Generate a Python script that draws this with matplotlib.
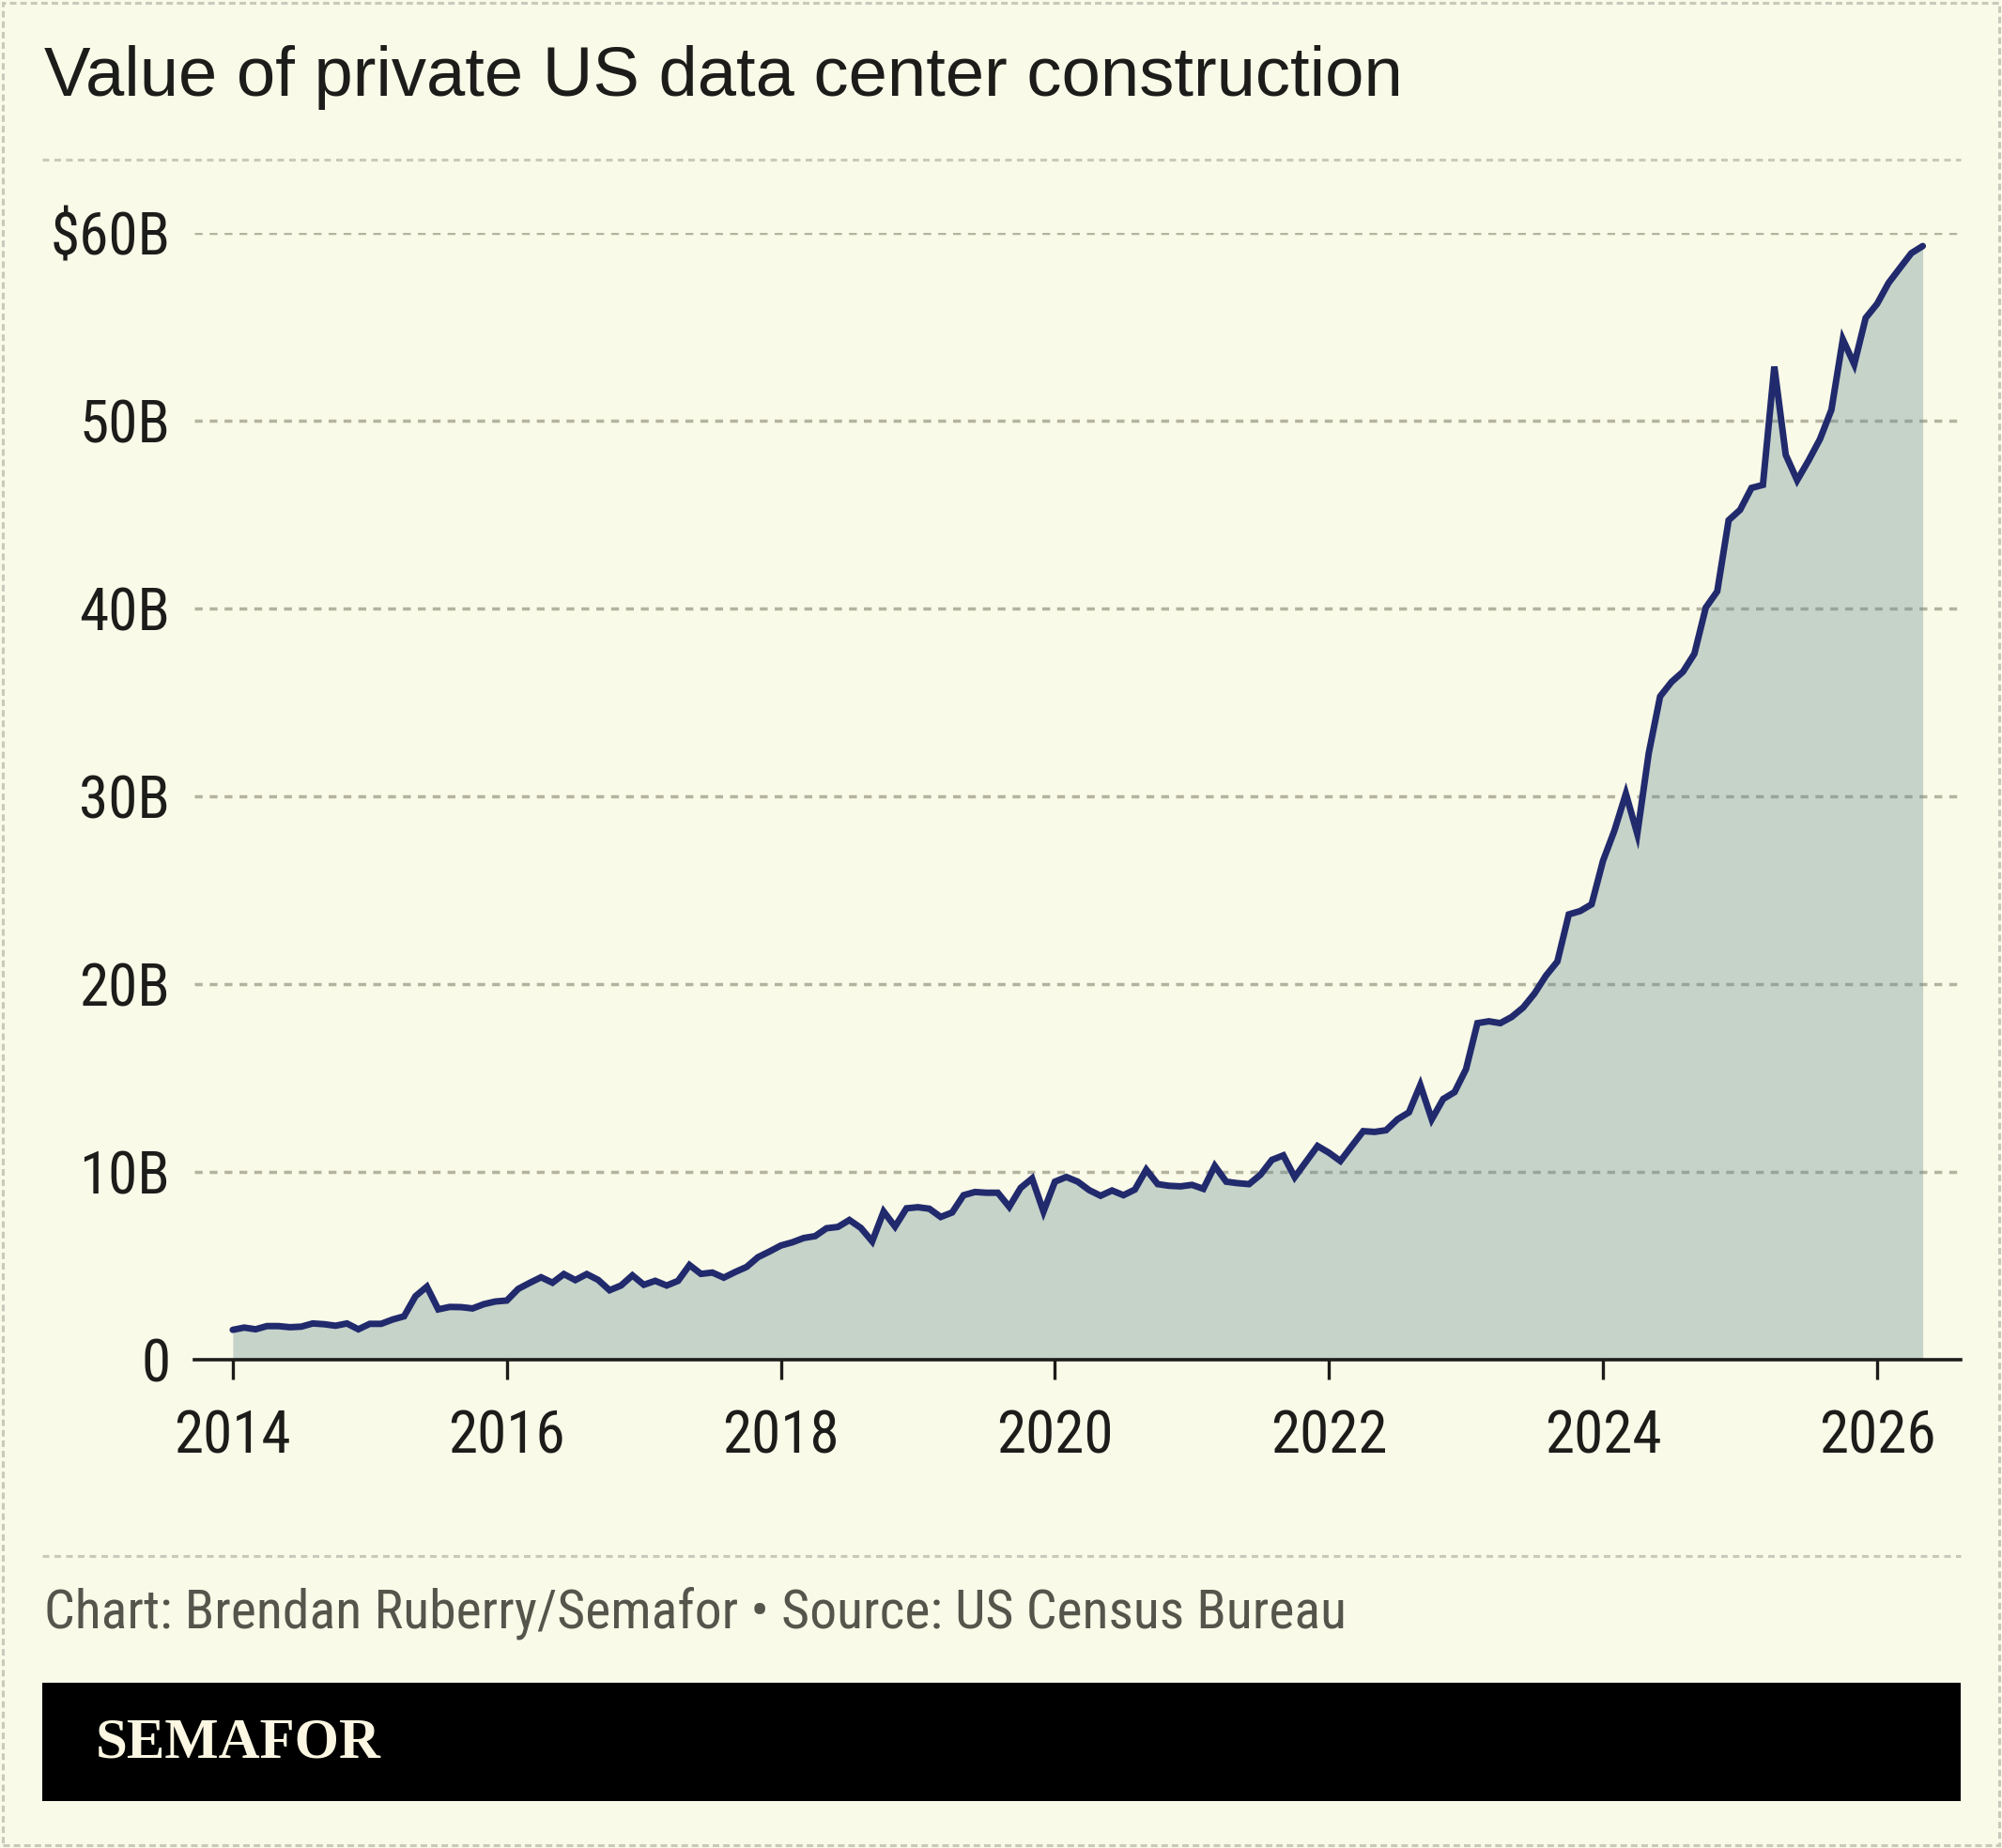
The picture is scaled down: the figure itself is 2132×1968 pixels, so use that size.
import numpy as np
import matplotlib
matplotlib.use("Agg")
import matplotlib.pyplot as plt
from matplotlib import font_manager
from matplotlib.patches import Rectangle
from matplotlib.lines import Line2D

# ---------------- data (monthly, Jan 2014 onward, $ billions) ----------------
start_year = 2014
values = [
    1.59, 1.71, 1.62, 1.79, 1.79, 1.73, 1.76, 1.93, 1.89, 1.81, 1.93, 1.62,   # 2014
    1.91, 1.91, 2.14, 2.31, 3.38, 3.89, 2.68, 2.81, 2.80, 2.73, 2.96, 3.10,   # 2015
    3.15, 3.77, 4.09, 4.39, 4.10, 4.56, 4.24, 4.56, 4.25, 3.70, 3.95, 4.49,   # 2016
    3.99, 4.20, 3.95, 4.20, 5.04, 4.57, 4.64, 4.37, 4.67, 4.94, 5.46, 5.76,   # 2017
    6.08, 6.25, 6.48, 6.58, 7.00, 7.07, 7.44, 7.02, 6.30, 7.89, 7.09, 8.06,   # 2018
    8.12, 8.04, 7.60, 7.84, 8.76, 8.93, 8.89, 8.89, 8.14, 9.15, 9.65, 7.89,   # 2019
    9.48, 9.73, 9.48, 9.03, 8.73, 9.01, 8.76, 9.06, 10.12, 9.35, 9.26, 9.23,  # 2020
    9.31, 9.10, 10.32, 9.48, 9.40, 9.35, 9.85, 10.64, 10.88, 9.72, 10.55, 11.38,  # 2021
    11.02, 10.58, 11.38, 12.17, 12.13, 12.22, 12.80, 13.17, 14.63, 12.80, 13.88, 14.25,  # 2022
    15.47, 17.92, 18.02, 17.92, 18.25, 18.75, 19.50, 20.45, 21.20, 23.71, 23.89, 24.25,  # 2023
    26.57, 28.18, 30.14, 28.00, 32.29, 35.32, 36.09, 36.63, 37.59, 40.05, 40.91, 44.70,  # 2024
    45.25, 46.42, 46.58, 52.88, 48.18, 46.83, 47.88, 49.02, 50.58, 54.33, 53.00, 55.47,  # 2025
    56.22, 57.33, 58.13, 58.92, 59.30,                                         # 2026
]
x_ticks = [2014, 2016, 2018, 2020, 2022, 2024, 2026]
x_tick_labels = ["2014", "2016", "2018", "2020", "2022", "2024", "2026"]
y_ticks = [0, 10, 20, 30, 40, 50, 60]
y_tick_labels = ["0", "10B", "20B", "30B", "40B", "50B", "$60B"]

title = "Value of private US data center construction"
credit = "Chart: Brendan Ruberry/Semafor \u2022 Source: US Census Bureau"
brand = "SEMAFOR"

# ---------------- style ----------------
W, H = 2132, 1968
BG = "#fafae8"
LINE = "#212a6c"
FILL = (0.39, 0.55, 0.57)
GRID = "#b3b3a0"
DASH = "#c9c9bc"
TXT = "#1c1c1a"
CREDIT = "#55554c"

available = {f.name for f in font_manager.fontManager.ttflist}
narrow_pick = "Liberation Sans"
for cand in ["Liberation Sans Narrow", "Roboto Condensed", "Open Sans Condensed",
             "IBM Plex Sans Condensed", "Arial Narrow"]:
    if cand in available:
        narrow_pick = cand
        break
NARROW = [narrow_pick, "DejaVu Sans"]

plt.rcParams["lines.scale_dashes"] = False

fig = plt.figure(figsize=(W / 100, H / 100), dpi=100, facecolor=BG)
renderer = fig.canvas.get_renderer()


def fx(px):
    return px / W


def fy(py):
    return 1 - py / H


def fit_size(text, family, target_px, base=40.0, **kw):
    t = fig.text(0, 0, text, family=family, fontsize=base, **kw)
    w = t.get_window_extent(renderer).width
    t.remove()
    return base * target_px / w


tick_fs = fit_size("2014", NARROW, 125)
credit_fs = fit_size(credit, NARROW, 1387)
title_fs = fit_size(title, ["Liberation Sans", "DejaVu Sans"], 1448)
brand_fs = fit_size(brand, ["Liberation Serif", "DejaVu Serif"], 304, fontweight="bold")

# axes placement (pixel coords from the top-left)
ax_left, ax_right, ax_top, ax_bottom = 207, 2088, 248, 1448
ax = fig.add_axes([fx(ax_left), fy(ax_bottom), fx(ax_right - ax_left), (ax_bottom - ax_top) / H])
ax.set_facecolor(BG)

x = start_year + np.arange(len(values)) / 12.0
y = np.array(values)

ax.fill_between(x, y, 0, color=FILL, alpha=0.35, lw=0, zorder=2)
ax.plot(x, y, color=LINE, lw=5.0, solid_joinstyle="miter", solid_capstyle="round", zorder=3)

ax.set_xlim(2013.72, 2026.61)
ax.set_ylim(0, 60)

for v in y_ticks[1:]:
    ax.axhline(v, color=GRID, lw=2.5, dashes=(6, 5.4), zorder=1)

ax.set_xticks(x_ticks)
ax.set_xticklabels(x_tick_labels, family=NARROW, fontsize=tick_fs, color=TXT)
ax.set_yticks(y_ticks)
ax.set_yticklabels(y_tick_labels, family=NARROW, fontsize=tick_fs, color=TXT)

ax.tick_params(axis="x", length=15, width=2.4, color=TXT, pad=23)
ax.tick_params(axis="y", length=0, pad=18.5)
for s in ["top", "right", "left"]:
    ax.spines[s].set_visible(False)
ax.spines["bottom"].set_color(TXT)
ax.spines["bottom"].set_linewidth(2.6)
ax.spines["bottom"].set_zorder(4)

# ---------------- titles, separators, credit, banner ----------------
fig.text(fx(47), fy(102), title, family=["Liberation Sans", "DejaVu Sans"],
         fontsize=title_fs, color=TXT, ha="left", va="baseline")

for yy in (170, 1657):
    fig.add_artist(Line2D([fx(45), fx(2088)], [fy(yy), fy(yy)], color=DASH, lw=2.2,
                          dashes=(5, 4)))

fig.text(fx(47), fy(1718), credit, family=NARROW, fontsize=credit_fs, color=CREDIT,
         ha="left", va="center")

fig.add_artist(Rectangle((fx(45), fy(1918)), fx(2088 - 45), (1918 - 1792) / H,
                         facecolor="black", edgecolor="none"))
fig.text(fx(102), fy(1856), brand, family=["Liberation Serif", "DejaVu Serif"],
         fontweight="bold", fontsize=brand_fs, color="#fbf7e2", ha="left", va="center")

# outer dashed border
fig.add_artist(Rectangle((fx(3), fy(H - 3)), fx(W - 6), (H - 6) / H, fill=False,
                         edgecolor=DASH, lw=2.2, linestyle=(0, (5, 3))))

fig.savefig("out.png", dpi=100, facecolor=BG)
